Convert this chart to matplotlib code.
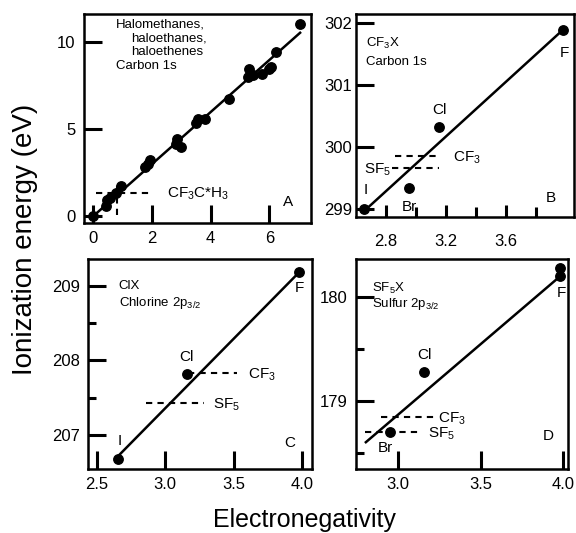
import numpy as np
import matplotlib
matplotlib.use('Agg')
import matplotlib.pyplot as plt
from matplotlib.ticker import MultipleLocator, FixedLocator

plt.rcParams['font.family'] = ['Liberation Sans', 'DejaVu Sans']
plt.rcParams['mathtext.default'] = 'regular'

# Panel A: halomethanes / haloethanes / haloethenes, carbon 1s
a_x = [0.0, 0.42, 0.48, 0.55, 0.77, 0.93, 1.75, 1.85, 1.92,
       2.82, 2.86, 3.0, 3.5, 3.56, 3.8, 4.62, 5.27, 5.3, 5.44,
       5.74, 6.0, 6.06, 6.22, 7.04]
a_y = [0.0, 0.6, 0.9, 1.05, 1.35, 1.7, 2.8, 3.0, 3.2,
       4.15, 4.45, 3.95, 5.35, 5.6, 5.6, 6.72, 7.99, 8.45, 8.09,
       8.15, 8.45, 8.55, 9.43, 11.05]
a_fit_x = [0.0, 7.08]
a_fit_y = [0.0, 10.57]

# Panel B: CF3X, carbon 1s
b_x = [2.655, 2.955, 3.155, 3.98]
b_y = [299.0, 299.35, 300.33, 301.9]
b_names = ['I', 'Br', 'Cl', 'F']
b_fit_x = [2.66, 3.97]
b_fit_y = [298.98, 301.87]

# Panel C: ClX, chlorine 2p3/2
c_x = [2.657, 3.156, 3.975]
c_y = [206.67, 207.82, 209.19]
c_names = ['I', 'Cl', 'F']
c_fit_x = [2.66, 3.97]
c_fit_y = [206.72, 209.17]

# Panel D: SF5X, sulfur 2p3/2
d_x = [2.95, 3.158, 3.98, 3.98]
d_y = [178.71, 179.28, 180.28, 180.21]
d_fit_x = [2.798, 3.97]
d_fit_y = [178.6, 180.19]

W, H = 576, 533
fig = plt.figure(figsize=(W / 100, H / 100), dpi=100)


def box(l, r, t, b):
    return [l / W, (H - b) / H, (r - l) / W, (b - t) / H]


def style(ax):
    for s in ax.spines.values():
        s.set_linewidth(1.8)
    ax.tick_params(which='major', direction='in', length=13, width=2.2,
                   labelsize=12, pad=6, top=False, right=False)
    ax.tick_params(which='minor', direction='in', length=6, width=2.2,
                   top=False, right=False)


def marks(ax, x, y, fx, fy):
    ax.plot(fx, fy, color='black', lw=1.8, solid_capstyle='butt')
    ax.plot(x, y, 'o', color='black', ms=6.8, mec='black')


dash = dict(color='black', lw=1.5, dashes=(3, 2.5))
lab = 11
note = 9.5

# ---- A
axA = fig.add_axes(box(84, 311, 14, 223))
style(axA)
axA.set_xlim(-0.32, 7.42)
axA.set_ylim(-0.4, 11.6)
axA.set_xticks([0, 2, 4, 6])
axA.set_yticks([0, 5, 10])
marks(axA, a_x, a_y, a_fit_x, a_fit_y)
axA.plot([0.08, 1.98], [1.3, 1.3], **dash)
axA.plot([0.82, 0.82], [0.06, 1.97], **dash)
axA.text(2.5, 1.3, 'CF$_3$C*H$_3$', fontsize=lab, va='center', ha='left')
axA.text(0.78, 11.0, 'Halomethanes,', fontsize=note, va='center')
axA.text(1.3, 10.22, 'haloethanes,', fontsize=note, va='center')
axA.text(1.3, 9.42, 'haloethenes', fontsize=note, va='center')
axA.text(0.78, 8.62, 'Carbon 1s', fontsize=note, va='center')
axA.text(6.63, 0.82, 'A', fontsize=lab, ha='center', va='center')

# ---- B
axB = fig.add_axes(box(356, 574, 14, 217))
style(axB)
axB.set_xlim(2.602, 4.055)
axB.set_ylim(298.876, 302.15)
axB.set_xticks([2.8, 3.2, 3.6])
axB.xaxis.set_minor_locator(FixedLocator([3.0, 3.4, 3.8]))
axB.set_yticks([299, 300, 301, 302])
axB.tick_params(axis='y', which='major', pad=3)
axB.tick_params(axis='x', which='major', length=9, pad=12)
axB.tick_params(axis='x', which='minor', length=7)
marks(axB, b_x, b_y, b_fit_x, b_fit_y)
axB.plot([2.862, 3.16], [299.86, 299.86], **dash)
axB.plot([2.844, 3.155], [299.66, 299.66], **dash)
axB.text(3.25, 299.83, 'CF$_3$', fontsize=lab, va='center', ha='left')
axB.text(2.835, 299.64, 'SF$_5$', fontsize=lab, va='center', ha='right')
b_lab = [(2.667, 299.31), (2.955, 299.04), (3.155, 300.6), (3.99, 301.52)]
for name, (lx, ly) in zip(b_names, b_lab):
    axB.text(lx, ly, name, fontsize=lab, ha='center', va='center')
axB.text(2.67, 301.68, 'CF$_3$X', fontsize=note, va='center')
axB.text(2.67, 301.38, 'Carbon 1s', fontsize=note, va='center')
axB.text(3.9, 299.18, 'B', fontsize=lab, ha='center', va='center')

# ---- C
axC = fig.add_axes(box(88, 312, 259, 469))
style(axC)
axC.set_xlim(2.437, 4.07)
axC.set_ylim(206.54, 209.36)
axC.set_xticks([2.5, 3.0, 3.5, 4.0])
axC.set_yticks([207, 208, 209])
axC.yaxis.set_minor_locator(MultipleLocator(0.5))
marks(axC, c_x, c_y, c_fit_x, c_fit_y)
axC.plot([3.168, 3.52], [207.83, 207.83], **dash)
axC.plot([2.86, 3.28], [207.43, 207.43], **dash)
axC.text(3.6, 207.8, 'CF$_3$', fontsize=lab, va='center', ha='left')
axC.text(3.35, 207.4, 'SF$_5$', fontsize=lab, va='center', ha='left')
c_lab = [(2.67, 206.92), (3.156, 208.04), (3.975, 208.97)]
for name, (lx, ly) in zip(c_names, c_lab):
    axC.text(lx, ly, name, fontsize=lab, ha='center', va='center')
axC.text(2.66, 209.0, 'ClX', fontsize=note, va='center')
axC.text(2.66, 208.77, 'Chlorine 2p$_{3/2}$', fontsize=note, va='center')
axC.text(3.91, 206.89, 'C', fontsize=lab, ha='center', va='center')

# ---- D
axD = fig.add_axes(box(356, 568, 259, 469))
style(axD)
axD.set_xlim(2.744, 4.028)
axD.set_ylim(178.35, 180.37)
axD.set_xticks([3.0, 3.5, 4.0])
axD.set_yticks([179, 180])
axD.yaxis.set_minor_locator(MultipleLocator(0.5))
marks(axD, d_x, d_y, d_fit_x, d_fit_y)
axD.plot([2.893, 3.233], [178.85, 178.85], **dash)
axD.plot([2.80, 3.13], [178.71, 178.71], **dash)
axD.text(3.24, 178.83, 'CF$_3$', fontsize=lab, va='center', ha='left')
axD.text(3.18, 178.69, 'SF$_5$', fontsize=lab, va='center', ha='left')
axD.text(2.92, 178.55, 'Br', fontsize=lab, ha='center', va='center')
axD.text(3.16, 179.45, 'Cl', fontsize=lab, ha='center', va='center')
axD.text(3.985, 180.04, 'F', fontsize=lab, ha='center', va='center')
axD.text(2.84, 180.09, 'SF$_5$X', fontsize=note, va='center')
axD.text(2.84, 179.94, 'Sulfur 2p$_{3/2}$', fontsize=note, va='center')
axD.text(3.91, 178.67, 'D', fontsize=lab, ha='center', va='center')

fig.text(0.043, 0.55, 'Ionization energy (eV)', rotation=90, fontsize=20,
         ha='center', va='center')
fig.text(0.528, 0.011, 'Electronegativity', fontsize=18, ha='center',
         va='baseline')

fig.savefig('out.png', dpi=100)
